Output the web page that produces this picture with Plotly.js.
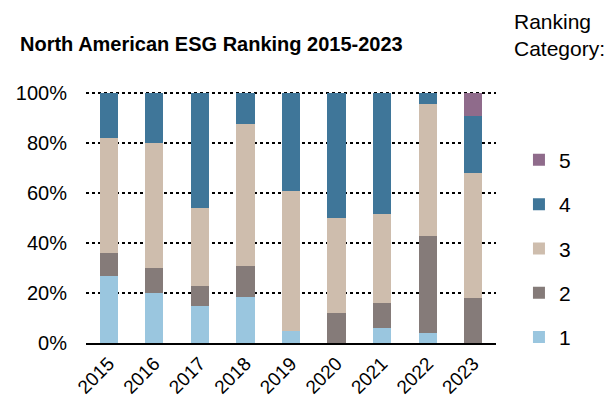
<!DOCTYPE html>
<html><head><meta charset="utf-8">
<script src="https://cdn.plot.ly/plotly-3.0.1.min.js"></script>
<style>html,body{margin:0;padding:0;background:#fff}#chart{width:610px;height:406px}</style>
</head><body><div id="chart"></div>
<script>
const years = ['2015','2016','2017','2018','2019','2020','2021','2022','2023'];
const cat1 = [27, 20, 15, 18.5, 5, 0, 6, 4, 0];
const cat2 = [9, 10, 8, 12.5, 0, 12, 10, 39, 18];
const cat3 = [46, 50, 31, 56.5, 56, 38, 35.5, 52.5, 50];
const cat4 = [18, 20, 46, 12.5, 39, 50, 48.5, 4.5, 23];
const cat5 = [0, 0, 0, 0, 0, 0, 0, 0, 9];
const seriesNames = ['1','2','3','4','5'];
const seriesColors = ['#9ac6df','#857b79','#cebdad','#3f7699','#8f6b8b'];
const seriesValues = [cat1, cat2, cat3, cat4, cat5];
const yTickVals = [0, 20, 40, 60, 80, 100];
const yTickText = ['0%', '20%', '40%', '60%', '80%', '100%'];

const FONT = '"Liberation Sans Narrow", "Arial Narrow", "Liberation Sans", Arial, sans-serif';

const traces = seriesValues.map((v, i) => ({
  type: 'bar', x: years, y: v, name: seriesNames[i], legendgroup: 'g' + i,
  legendrank: 10 - i,
  marker: {color: seriesColors[i], line: {width: 0}},
  hoverinfo: 'x+y+name'
}));

const layout = {
  width: 610, height: 406,
  margin: {l: 86, r: 114, t: 92, b: 63},
  barmode: 'stack', bargap: 0.6,
  paper_bgcolor: '#fff', plot_bgcolor: '#fff',
  font: {family: FONT, size: 18, color: '#000'},
  showlegend: true,
  legend: {x: 1.056, xanchor: 'left', y: 0.81, yanchor: 'top', traceorder: 'grouped',
           tracegroupgap: 14, font: {family: FONT, size: 21, color: '#000'}, itemwidth: 30,
           bgcolor: 'rgba(0,0,0,0)'},
  xaxis: {type: 'category', tickangle: -45, showgrid: false, showline: true, linecolor: '#000', linewidth: 2,
          ticks: '', tickfont: {family: FONT, size: 19, color: '#000'}, fixedrange: true},
  yaxis: {range: [0, 100.5], tickmode: 'array', tickvals: yTickVals, ticktext: yTickText, showgrid: true,
          gridcolor: '#000', gridwidth: 2, griddash: 'dot', zeroline: false, showline: false, ticks: '',
          ticklabelstandoff: 18,
          tickfont: {family: FONT, size: 20, color: '#000'}, fixedrange: true},
  annotations: [
    {text: '<b>North American ESG Ranking 2015-2023</b>', xref: 'paper', yref: 'paper',
     x: -0.165, y: 1.19, xanchor: 'left', yanchor: 'middle', showarrow: false,
     font: {family: FONT, size: 20, color: '#000'}},
    {text: 'Ranking<br>Category:', xref: 'paper', yref: 'paper', x: 1.04, y: 1.335,
     xanchor: 'left', yanchor: 'top', align: 'left', showarrow: false,
     font: {family: FONT, size: 21, color: '#000'}}
  ]
};

Plotly.newPlot('chart', traces, layout, {displayModeBar: false, staticPlot: true});
</script></body></html>
